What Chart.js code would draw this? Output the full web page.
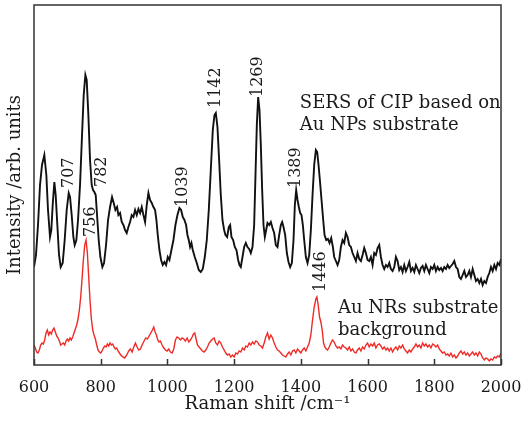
<!DOCTYPE html>
<html>
<head>
<meta charset="utf-8">
<script src="https://cdn.jsdelivr.net/npm/chart.js@4.4.1/dist/chart.umd.min.js"></script>
<style>
  html, body { margin: 0; padding: 0; background: #fff; }
</style>
</head>
<body>
<canvas id="chart" width="531" height="423"></canvas>
<script>
// x 눈금
const xTicks = [600, 800, 1000, 1200, 1400, 1600, 1800, 2000]

// SERS of CIP (검정)
const sersShift = [
  600, 606, 612, 618, 624, 631, 637, 642, 648, 652, 656, 661, 665, 670, 675, 680,
  686, 692, 698, 704, 708, 713, 718, 722, 727, 732, 738, 744, 749, 754, 758, 763,
  768, 773, 777, 781, 785, 789, 794, 799, 805, 810, 816, 822, 828, 834, 839, 844,
  849, 853, 858, 863, 868, 873, 878, 883, 888, 893, 898, 903, 908, 913, 918, 923,
  928, 933, 938, 943, 948, 953, 958, 963, 967, 971, 976, 981, 986, 991, 996, 1001,
  1006, 1012, 1018, 1024, 1030, 1036, 1041, 1046, 1051, 1056, 1060, 1064, 1068, 1072, 1076, 1082,
  1088, 1094, 1100, 1106, 1112, 1118, 1124, 1130, 1136, 1141, 1145, 1150, 1155, 1160, 1165, 1170,
  1174, 1179, 1184, 1188, 1192, 1197, 1202, 1207, 1212, 1216, 1220, 1225, 1230, 1235, 1240, 1245,
  1250, 1255, 1260, 1264, 1268, 1272, 1276, 1280, 1284, 1288, 1292, 1296, 1300, 1305, 1310, 1315,
  1320, 1325, 1330, 1335, 1340, 1344, 1348, 1353, 1358, 1363, 1368, 1373, 1378, 1382, 1386, 1390,
  1394, 1398, 1402, 1406, 1410, 1415, 1420, 1425, 1430, 1435, 1440, 1445, 1449, 1453, 1457, 1462,
  1467, 1471, 1476, 1481, 1486, 1491, 1496, 1500, 1505, 1510, 1515, 1520, 1525, 1530, 1535, 1540,
  1545, 1550, 1555, 1560, 1565, 1570, 1575, 1580, 1585, 1590, 1595, 1600, 1605, 1610, 1615, 1620,
  1625, 1630, 1635, 1640, 1645, 1650, 1655, 1660, 1665, 1670, 1675, 1680, 1685, 1690, 1695, 1700,
  1705, 1710, 1715, 1720, 1725, 1730, 1735, 1740, 1745, 1750, 1755, 1760, 1765, 1770, 1775, 1780,
  1785, 1790, 1795, 1800, 1805, 1810, 1815, 1820, 1825, 1830, 1835, 1840, 1845, 1850, 1855, 1860,
  1865, 1870, 1875, 1880, 1885, 1890, 1895, 1900, 1905, 1910, 1915, 1920, 1925, 1930, 1935, 1940,
  1945, 1950, 1955, 1960, 1965, 1970, 1975, 1980, 1985, 1990, 1995, 2000
]
const sersIntensity = [
  98, 110, 140, 180, 200, 210, 190, 155, 128, 135, 160, 183, 170, 140, 110, 98,
  102, 125, 155, 172, 168, 150, 128, 120, 125, 145, 180, 230, 270, 290, 285, 250,
  205, 180, 175, 173, 170, 150, 125, 108, 98, 102, 120, 145, 158, 168, 162, 155,
  158, 150, 152, 143, 140, 135, 132, 138, 143, 150, 148, 155, 150, 156, 152, 158,
  150, 143, 160, 172, 165, 162, 158, 155, 145, 130, 115, 105, 100, 103, 100, 108,
  105, 115, 125, 140, 150, 157, 155, 148, 145, 140, 130, 125, 118, 122, 115, 108,
  102, 95, 93, 96, 108, 125, 155, 195, 235, 250, 252, 238, 205, 170, 145, 135,
  130, 128, 138, 140, 128, 125, 118, 115, 105, 100, 98, 108, 118, 122, 118, 116,
  112, 118, 140, 190, 240, 268, 255, 220, 175, 140, 128, 135, 142, 140, 143, 137,
  132, 120, 118, 130, 140, 143, 138, 130, 112, 103, 98, 102, 125, 160, 175, 165,
  158, 152, 150, 140, 125, 108, 102, 110, 135, 170, 200, 215, 213, 200, 185, 165,
  145, 130, 125, 126, 122, 127, 118, 108, 104, 100, 105, 118, 125, 122, 132, 128,
  120, 118, 112, 108, 104, 112, 106, 104, 110, 117, 112, 105, 104, 108, 100, 112,
  110, 117, 120, 108, 100, 96, 100, 98, 102, 96, 94, 98, 108, 104, 95, 98,
  93, 100, 94, 98, 103, 94, 97, 93, 100, 96, 92, 97, 99, 94, 100, 96,
  92, 98, 96, 100, 94, 98, 95, 97, 94, 98, 96, 100, 97, 99, 101, 104,
  98, 96, 88, 86, 90, 94, 88, 90, 94, 88, 96, 90, 84, 86, 82, 86,
  80, 84, 82, 88, 92, 98, 94, 100, 96, 102, 100, 106
]

// Au NRs 기판 배경 (빨강)
const bgShift = [
  600, 604, 608, 612, 616, 620, 624, 628, 632, 636, 640, 644, 648, 652, 656, 660,
  664, 668, 672, 676, 680, 684, 688, 692, 696, 700, 704, 708, 712, 716, 720, 724,
  728, 732, 736, 740, 744, 748, 752, 756, 760, 764, 768, 772, 776, 780, 784, 788,
  792, 796, 800, 804, 808, 812, 816, 820, 824, 828, 832, 836, 840, 844, 848, 852,
  856, 860, 866, 872, 878, 884, 889, 894, 899, 904, 909, 914, 919, 924, 930, 935,
  940, 945, 950, 955, 959, 963, 967, 971, 975, 979, 984, 989, 994, 999, 1004, 1009,
  1014, 1019, 1024, 1029, 1034, 1039, 1044, 1049, 1054, 1059, 1064, 1069, 1074, 1078, 1082, 1086,
  1090, 1095, 1100, 1105, 1110, 1115, 1120, 1125, 1130, 1135, 1140, 1145, 1150, 1155, 1160, 1165,
  1170, 1175, 1180, 1185, 1190, 1195, 1200, 1205, 1210, 1215, 1220, 1225, 1230, 1235, 1240, 1245,
  1250, 1255, 1260, 1265, 1270, 1275, 1280, 1285, 1290, 1295, 1300, 1305, 1310, 1315, 1320, 1325,
  1330, 1335, 1340, 1345, 1350, 1355, 1360, 1365, 1370, 1375, 1380, 1385, 1390, 1395, 1400, 1405,
  1410, 1415, 1420, 1425, 1430, 1435, 1440, 1445, 1448, 1452, 1456, 1460, 1464, 1468, 1472, 1476,
  1480, 1485, 1490, 1495, 1500, 1505, 1510, 1515, 1520, 1525, 1530, 1535, 1540, 1545, 1550, 1555,
  1560, 1565, 1570, 1575, 1580, 1585, 1590, 1595, 1600, 1605, 1610, 1615, 1620, 1625, 1630, 1635,
  1640, 1645, 1650, 1655, 1660, 1665, 1670, 1675, 1680, 1685, 1690, 1695, 1700, 1705, 1710, 1715,
  1720, 1725, 1730, 1735, 1740, 1745, 1750, 1755, 1760, 1765, 1770, 1775, 1780, 1785, 1790, 1795,
  1800, 1805, 1810, 1815, 1820, 1825, 1830, 1835, 1840, 1845, 1850, 1855, 1860, 1865, 1870, 1875,
  1880, 1885, 1890, 1895, 1900, 1905, 1910, 1915, 1920, 1925, 1930, 1935, 1940, 1945, 1950, 1955,
  1960, 1965, 1970, 1975, 1980, 1985, 1990, 1995, 2000
]
const bgIntensity = [
  20, 17, 13, 12, 15, 20, 22, 21, 25, 32, 35, 30, 33, 31, 35, 37,
  33, 29, 27, 24, 20, 21, 22, 20, 24, 26, 24, 27, 25, 28, 32, 36,
  40, 46, 55, 68, 86, 105, 120, 125, 112, 88, 64, 46, 35, 30, 26, 20,
  15, 13, 12, 14, 17, 19, 18, 21, 19, 22, 20, 21, 18, 16, 17, 14,
  12, 10, 8, 7, 10, 14, 16, 13, 18, 22, 18, 15, 16, 20, 24, 27,
  26, 29, 32, 35, 38, 33, 30, 25, 23, 24, 20, 17, 15, 14, 16, 13,
  12, 16, 25, 28, 27, 25, 27, 26, 24, 27, 23, 25, 28, 31, 32, 26,
  20, 18, 16, 14, 13, 15, 18, 22, 24, 26, 27, 22, 20, 24, 22, 18,
  15, 12, 10, 11, 8, 10, 8, 12, 11, 14, 13, 17, 15, 19, 18, 22,
  20, 23, 21, 24, 23, 20, 19, 17, 22, 28, 32, 26, 30, 27, 22, 18,
  15, 14, 12, 10, 9, 8, 11, 13, 10, 14, 15, 12, 16, 14, 12, 15,
  17, 14, 18, 22, 30, 45, 58, 66, 68, 60, 48, 43, 35, 22, 18, 16,
  15, 18, 22, 25, 23, 19, 17, 18, 16, 20, 18, 17, 15, 18, 14, 16,
  13, 12, 15, 17, 14, 18, 16, 20, 22, 18, 21, 19, 22, 17, 20, 21,
  19, 16, 18, 15, 17, 14, 17, 13, 16, 18, 15, 19, 17, 20, 16, 14,
  12, 15, 13, 16, 18, 21, 18, 20, 17, 22, 19, 21, 18, 20, 17, 21,
  20, 18, 20, 16, 14, 12, 13, 10, 11, 9, 12, 8, 10, 7, 9, 12,
  14, 11, 13, 10, 12, 9, 11, 13, 10, 12, 9, 13, 11, 7, 5, 7,
  6, 4, 6, 5, 8, 7, 9, 8, 12
]

// 피크 라벨 (텍스트, 라벨 위치 x, 라벨 아래끝 y)
const peakLabels = ['707', '782', '756', '1039', '1142', '1269', '1389', '1446']
const peakLabelX = [703, 802, 769, 1047, 1145, 1270, 1385, 1460]
const peakLabelY = [177, 178, 128, 158, 257, 268, 177, 73]

// 곡선 설명 문구
const captions = [
  { lines: ['SERS of CIP based on', 'Au NPs substrate'], x: 1397, y: 257 },
  { lines: ['Au NRs substrate', 'background'], x: 1511, y: 52 },
]

const FONT = 'DejaVu Serif'
const INK = '#1a1a1a'

const toPoints = (xs, ys) => xs.map((x, i) => ({ x, y: ys[i] }))

// 테두리, 안쪽 눈금, 라벨 그리기
const decorations = {
  id: 'decorations',
  afterDatasetsDraw(chart) {
    const { ctx, chartArea: a, scales: { x, y } } = chart
    ctx.save()
    ctx.fillStyle = INK

    // 피크 라벨 (세로)
    ctx.font = `16px "${FONT}"`
    ctx.textAlign = 'left'
    ctx.textBaseline = 'middle'
    peakLabels.forEach((t, i) => {
      ctx.save()
      ctx.translate(x.getPixelForValue(peakLabelX[i]), y.getPixelForValue(peakLabelY[i]))
      ctx.rotate(-Math.PI / 2)
      ctx.fillText(t, 0, 0)
      ctx.restore()
    })

    // 설명 문구
    ctx.font = `18px "${FONT}"`
    ctx.textBaseline = 'alphabetic'
    captions.forEach(c => {
      const px = x.getPixelForValue(c.x)
      const py = y.getPixelForValue(c.y)
      c.lines.forEach((line, k) => ctx.fillText(line, px, py + k * 22))
    })

    // 테두리
    ctx.strokeStyle = '#333'
    ctx.lineWidth = 1.5
    ctx.strokeRect(a.left, a.top, a.right - a.left, a.bottom - a.top)

    // x축 눈금 (안쪽 방향)
    ctx.beginPath()
    x.ticks.forEach(t => {
      const px = Math.round(x.getPixelForValue(t.value)) + 0.5
      ctx.moveTo(px, a.bottom)
      ctx.lineTo(px, a.bottom - 6)
    })
    ctx.stroke()
    ctx.restore()
  },
}

new Chart(document.getElementById('chart'), {
  type: 'line',
  data: {
    datasets: [
      {
        label: 'SERS of CIP based on Au NPs substrate',
        data: toPoints(sersShift, sersIntensity),
        borderColor: '#111',
        borderWidth: 1.9,
      },
      {
        label: 'Au NRs substrate background',
        data: toPoints(bgShift, bgIntensity),
        borderColor: '#ee2b26',
        borderWidth: 1.4,
      },
    ],
  },
  options: {
    responsive: false,
    animation: false,
    layout: { padding: { top: 5, right: 30, left: 0, bottom: 0 } },
    elements: { point: { radius: 0 }, line: { tension: 0 } },
    plugins: { legend: { display: false }, tooltip: { enabled: false } },
    scales: {
      x: {
        type: 'linear',
        min: 600,
        max: 2000,
        afterBuildTicks: s => { s.ticks = xTicks.map(v => ({ value: v })) },
        afterFit: s => { s.height = 58 },
        grid: { display: false },
        border: { display: false },
        ticks: {
          color: INK,
          font: { family: FONT, size: 16 },
          padding: 5,
          maxRotation: 0,
          autoSkip: false,
          callback: v => String(v),
        },
        title: { display: true, text: 'Raman shift /cm⁻¹', color: INK, font: { family: FONT, size: 18 }, padding: { top: 0, bottom: 8 } },
      },
      y: {
        min: 0,
        max: 360,
        afterFit: s => { s.width = 34 },
        grid: { display: false },
        border: { display: false },
        ticks: { display: false },
        title: { display: true, text: 'Intensity /arb. units', color: INK, font: { family: FONT, size: 18 }, padding: { top: 5, bottom: 0 } },
      },
    },
  },
  plugins: [decorations],
})
</script>
</body>
</html>
